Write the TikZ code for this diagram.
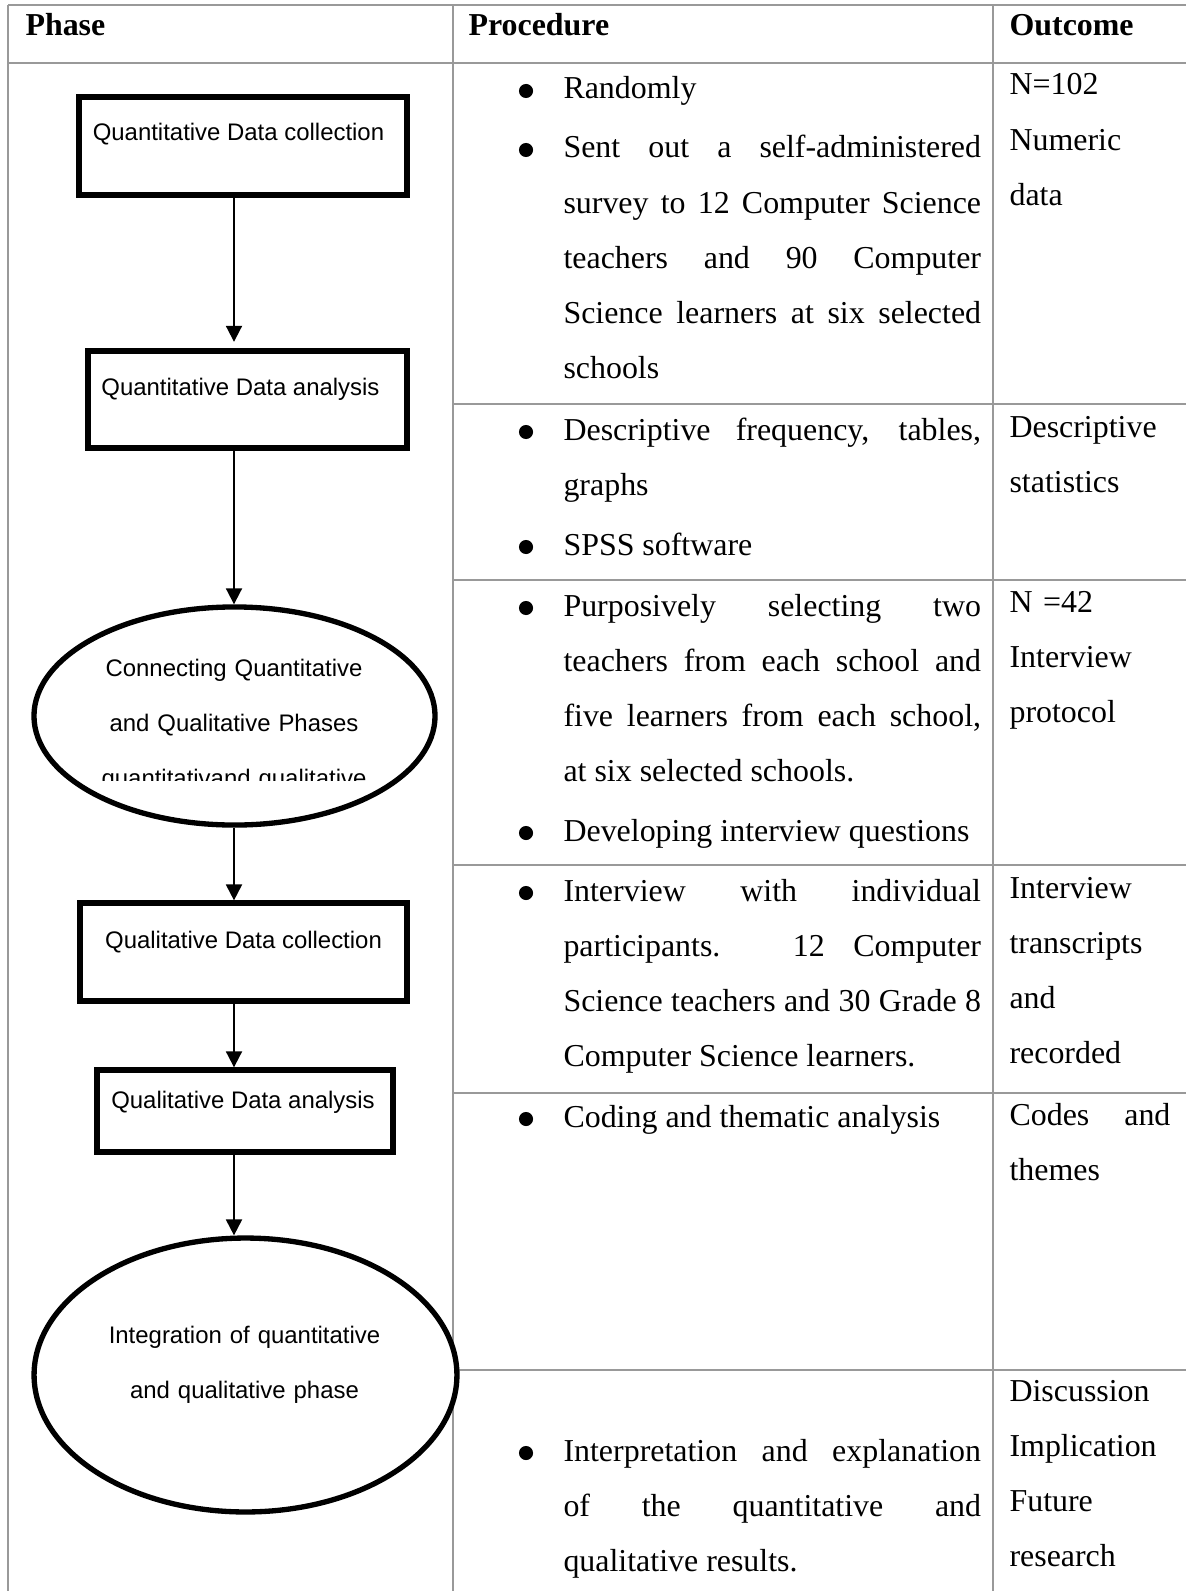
\documentclass[tikz,border=0pt]{standalone}
\usepackage{fontspec}
\setmainfont{Liberation Serif}
\setsansfont{Liberation Sans}
\usetikzlibrary{arrows.meta,shapes.geometric,shadows}

\begin{document}
\begin{tikzpicture}[x=0.376pt, y=-0.376pt,
		rule/.style={draw=black!40, line width=0.75pt},
		stage/.style={draw, fill=white, line width=2pt, inner sep=0pt, anchor=base,
			font=\sffamily\fontsize{9}{10.35}\selectfont,
			drop shadow={shadow xshift=0.9pt, shadow yshift=-0.9pt, opacity=0.3}},
		link/.style={draw, fill=white, ellipse, line width=2pt, inner sep=0pt},
		linktext/.style={anchor=base, inner sep=0pt, text width=150pt, align=center,
			font=\sffamily\fontsize{9}{20.7}\selectfont},
		flow/.style={-{Triangle[width=6pt,length=6pt]}, line width=0.75pt},
		head/.style={anchor=base west, inner sep=0pt, font=\bfseries\fontsize{12}{14}\selectfont},
		dot/.style={circle, fill, inner sep=0pt, minimum size=5.3pt},
		proc/.style={anchor=base west, inner sep=0pt, text width=157pt, align=justify,
			font=\fontsize{12}{20.7}\selectfont},
		outc/.style={anchor=base west, inner sep=0pt, text width=60.5pt, align=left,
			font=\fontsize{12}{20.7}\selectfont}]

		\useasboundingbox (0,0) rectangle (1186,1591);

		% Draw the table grid
		\draw[rule] (8,5) -- (1186,5);
		\draw[rule] (8,63) -- (1186,63);
		\draw[rule] (8,5) -- (8,1591);
		\draw[rule] (453,5) -- (453,1591);
		\draw[rule] (993,5) -- (993,1591);
		\foreach \y in {404,580,865,1093,1370}
			\draw[rule] (453,\y) -- (1186,\y);

		% Header row
		\node[head] (phase) at (25,36) {Phase};
		\node[head] (procedure) at (468,36) {Procedure};
		\node[head] (outcome) at (1009,36) {Outcome};

		% Phase column: boxes and ellipses
		\node[stage, minimum width=123.3pt, text height=16.5pt, text depth=20.3pt] (qncollect) at (243,141) {Quantitative Data collection\hspace*{3.4pt}};
		\node[stage, minimum width=120pt, text height=16.5pt, text depth=19.9pt] (qnanalyse) at (247.5,395) {Quantitative Data analysis\hspace*{5.3pt}};

		\node[link, minimum width=150.8pt, minimum height=82pt] (connect) at (234.5,716) {};
		\node[linktext] (connecttext) at (234,676) {Connecting Quantitative\\and Qualitative Phases};
		\begin{scope}
			\clip (34,607) rectangle (435,780);
			\node[linktext] (connectcut) at (234,786) {quantitativand qualitative};
		\end{scope}

		\node[stage, minimum width=123pt, text height=16.9pt, text depth=19.9pt] (qlcollect) at (243.5,948) {Qualitative Data collection};
		\node[stage, minimum width=111.3pt, text height=14.3pt, text depth=16.5pt] (qlanalyse) at (245,1108) {Qualitative Data analysis\hspace*{1.5pt}};

		\node[link, minimum width=159pt, minimum height=103pt] (integrate) at (245.5,1375) {};
		\node[linktext] (integratetext) at (244.5,1343) {Integration of quantitative\\and qualitative phase};

		% Draw the arrows down the phase column
		\coordinate (axis) at (234,0);
		\draw[flow, shorten >=2.5pt] (qncollect.south -| axis) -- (qnanalyse.north -| axis);
		\draw[flow] (qnanalyse.south -| axis) -- (connect.north -| axis);
		\draw[flow] (connect.south -| axis) -- (qlcollect.north -| axis);
		\draw[flow] (qlcollect.south -| axis) -- (qlanalyse.north -| axis);
		\draw[flow] (qlanalyse.south -| axis) -- (integrate.north -| axis);

		% Procedure column
		\foreach \y in {99,158,440,555,616,841,901,1127,1461}
			\node[dot] (bullet\y) at (526,\y-8) {};

		\node[proc] (randomly) at (563,99) {Randomly};
		\node[proc] (survey) at (563,158) {Sent out a self-administered\linebreak survey to 12 Computer Science\linebreak teachers and 90 Computer\linebreak Science learners at six selected\linebreak schools};
		\node[proc] (descriptive) at (563,440) {Descriptive frequency, tables,\linebreak graphs};
		\node[proc] (spss) at (563,555) {SPSS software};
		\node[proc] (purposive) at (563,616) {Purposively selecting two\linebreak teachers from each school and\linebreak five learners from each school,\linebreak at six selected schools.};
		\node[proc] (questions) at (563,841) {Developing interview questions};
		\node[proc] (interview) at (563,901) {Interview with individual\linebreak participants. 12 Computer\linebreak Science teachers and 30 Grade 8\linebreak Computer Science learners.};
		\node[proc] (coding) at (563,1127) {Coding and thematic analysis};
		\node[proc] (interpret) at (563,1461) {Interpretation and explanation\linebreak of the quantitative and\linebreak qualitative results.};

		% Outcome column
		\node[outc] (numeric) at (1009,95) {N=102\\Numeric\\data};
		\node[outc] (statistics) at (1009,437) {Descriptive\\statistics};
		\node[outc] (protocol) at (1009,612) {N =42\\Interview\\protocol};
		\node[outc] (transcripts) at (1009,898) {Interview\\transcripts\\and\\recorded};
		\node[outc] (themes) at (1009,1125) {Codes\hfill and\\themes};
		\node[outc] (discussion) at (1009,1401) {Discussion\\Implication\\Future\\research};

	\end{tikzpicture}
\end{document}
